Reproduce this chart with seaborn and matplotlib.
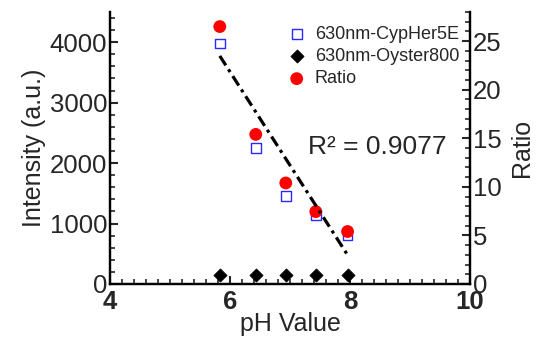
import matplotlib
matplotlib.use("Agg")
import matplotlib.pyplot as plt
import seaborn as sns
import pandas as pd
from matplotlib.ticker import MultipleLocator

ph = [5.83, 6.43, 6.93, 7.43, 7.96]
cypher = [3980, 2250, 1460, 1140, 810]
oyster = [150, 150, 150, 150, 150]
ratio = [26.5, 15.4, 10.4, 7.45, 5.4]
r2_text = "R\u00b2 = 0.9077"

df = pd.DataFrame({"ph": ph, "cypher": cypher, "oyster": oyster, "ratio": ratio})

sns.set_style("ticks")
plt.rcParams["font.family"] = ["Liberation Sans", "DejaVu Sans"]

fig = plt.figure(figsize=(5.36, 3.37), dpi=100)
ax = fig.add_axes([0.2052, 0.1573, 0.6716, 0.8071])
ax2 = ax.twinx()

sns.scatterplot(
    data=df, x="ph", y="cypher", ax=ax,
    marker="s", s=50, facecolor="none", edgecolor="#2a2aff", linewidth=1.0,
    label="630nm-CypHer5E", legend=False
)
sns.scatterplot(
    data=df, x="ph", y="oyster", ax=ax,
    marker="D", s=45, color="black", edgecolor="black",
    label="630nm-Oyster800", legend=False
)
sns.scatterplot(
    data=df, x="ph", y="ratio", ax=ax2,
    marker="o", s=85, color="#ff0000", edgecolor="none",
    label="Ratio", legend=False
)
sns.regplot(
    data=df, x="ph", y="ratio", ax=ax2, scatter=False, ci=None,
    line_kws={"color": "black", "linewidth": 2.3, "linestyle": (0, (3.5, 1.5, 1, 1.5))}
)

ax.set_xlim(4, 10)
ax.set_ylim(0, 4500)
ax2.set_ylim(0, 28)

ax.xaxis.set_major_locator(MultipleLocator(2))
ax.xaxis.set_minor_locator(MultipleLocator(0.2))
ax.yaxis.set_major_locator(MultipleLocator(1000))
ax.yaxis.set_minor_locator(MultipleLocator(200))
ax2.yaxis.set_major_locator(MultipleLocator(5))
ax2.yaxis.set_minor_locator(MultipleLocator(1))

for a in (ax, ax2):
    a.tick_params(which="major", direction="in", length=6, width=1.5, labelsize=18.5, pad=2)
    a.tick_params(which="minor", direction="in", length=3.5, width=1.2)
    for side in ("left", "right", "bottom"):
        a.spines[side].set_linewidth(1.6)
        a.spines[side].set_color("black")
    a.spines["top"].set_visible(False)
ax.tick_params(axis="y", right=False)
ax.tick_params(axis="x", top=False, pad=4)
for lbl in ax.get_xticklabels():
    lbl.set_fontweight("bold")

ax.set_xlabel("pH Value", fontsize=18, labelpad=-1)
ax.set_ylabel("Intensity (a.u.)", fontsize=18, labelpad=3)
ax2.set_ylabel("Ratio", fontsize=18, labelpad=6)

ax2.text(8.45, 14.1, r2_text, fontsize=19, ha="center", va="center")

h1, l1 = ax.get_legend_handles_labels()
h2, l2 = ax2.get_legend_handles_labels()
ax2.legend(
    h1 + h2, l1 + l2, loc="upper right", bbox_to_anchor=(1.0, 0.99),
    frameon=False, fontsize=13, handletextpad=0.4, labelspacing=0.3,
    borderaxespad=0.2, handlelength=1.2
)

fig.savefig("out.png", dpi=100)
plt.close(fig)
